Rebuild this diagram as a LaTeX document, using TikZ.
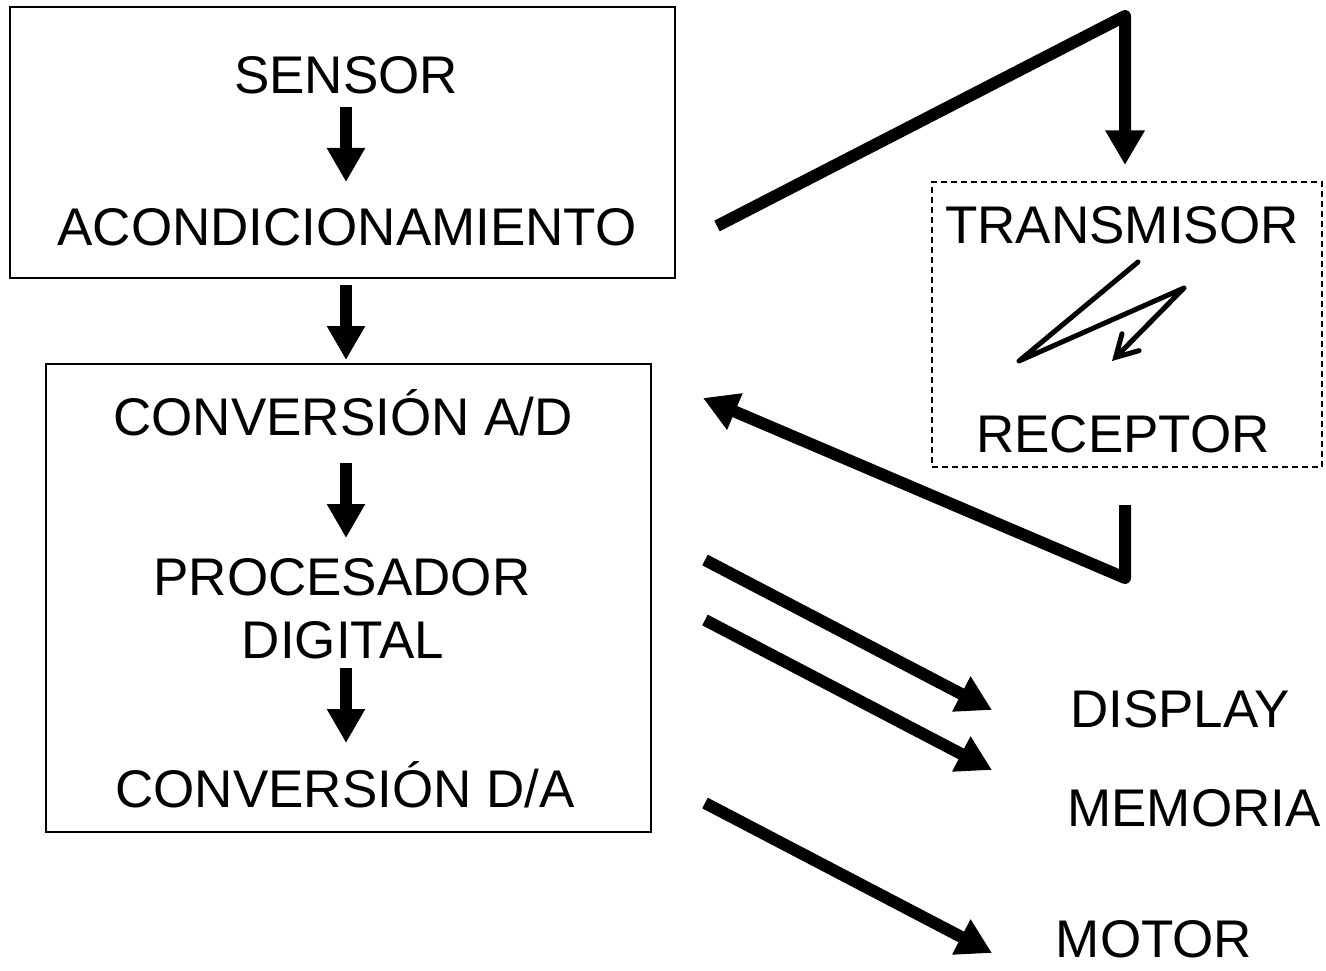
\documentclass[tikz,border=0pt]{standalone}
\usepackage{fontspec}
\setmainfont{Liberation Sans}
\usetikzlibrary{arrows.meta,fit}
\begin{document}
\begin{tikzpicture}[x=0.75pt,y=-0.75pt,
  lbl/.style={anchor=base,inner sep=0pt,font=\fontsize{39.75}{44}\selectfont},
  box/.style={draw,line width=1.5pt,inner sep=0pt},
  dbox/.style={draw,line width=1.1pt,dash pattern=on 4.5pt off 3pt,inner sep=0pt},
  varrow/.style={line width=9pt,-{Triangle[length=25.5pt,width=27pt]}},
  bigarrow/.style={line width=9pt,line join=round,-{Triangle[length=26pt,width=28pt]}},
  wave/.style={line width=3.75pt,line join=round,line cap=round,-{Straight Barb[length=16pt,width=18pt,line cap=round]}}]
\useasboundingbox (0,0) rectangle (1326,970);

% boxes
\node[box,fit={(10,7) (675,278)}] (box1) {};
\node[box,fit={(46,364) (651,832)}] (box2) {};
\node[dbox,fit={(932,182) (1322,467)}] (box3) {};

% labels
\node[lbl] (sensor) at (346,94) {SENSOR};
\node[lbl] (acond) at (347,245) {ACONDICIONAMIENTO};
\node[lbl] (convad) at (343,435) {CONVERSIÓN A/D};
\node[lbl] (proc) at (342,595) {PROCESADOR};
\node[lbl] (digital) at (343,658) {DIGITAL};
\node[lbl] (convda) at (345,807) {CONVERSIÓN D/A};
\node[lbl] (trans) at (1122,243) {TRANSMISOR};
\node[lbl] (recep) at (1123,452) {RECEPTOR};
\node[lbl] (display) at (1180,727) {DISPLAY};
\node[lbl] (memoria) at (1194,826) {MEMORIA};
\node[lbl] (motor) at (1154,957) {MOTOR};

% connector end points
\coordinate (a1s) at (346,107);  \coordinate (a1e) at (346,182);
\coordinate (a2s) at (346,285);  \coordinate (a2e) at (346,360);
\coordinate (a3s) at (346,463);  \coordinate (a3e) at (346,538);
\coordinate (a4s) at (346,668);  \coordinate (a4e) at (346,743);

\coordinate (txs) at (717,226);  \coordinate (txc) at (1125,16);  \coordinate (txe) at (1125,165);
\coordinate (rxs) at (1125,505); \coordinate (rxc) at (1125,578); \coordinate (rxe) at (703,398);

\coordinate (ds) at (705,560);   \coordinate (de) at (992,710);
\coordinate (ms) at (705,620);   \coordinate (me) at (992,770);
\coordinate (ts) at (705,803);   \coordinate (te) at (992,953);

\coordinate (w1) at (1138,262);  \coordinate (w2) at (1019,361);
\coordinate (w3) at (1184,288);  \coordinate (w4) at (1112,361);

% connectors
\draw[varrow] (a1s) -- (a1e);
\draw[varrow] (a2s) -- (a2e);
\draw[varrow] (a3s) -- (a3e);
\draw[varrow] (a4s) -- (a4e);

\draw[bigarrow] (txs) -- (txc) -- (txe);
\draw[bigarrow] (rxs) -- (rxc) -- (rxe);

\draw[bigarrow] (ds) -- (de);
\draw[bigarrow] (ms) -- (me);
\draw[bigarrow] (ts) -- (te);

\draw[wave] (w1) -- (w2) -- (w3) -- (w4);
\end{tikzpicture}
\end{document}
